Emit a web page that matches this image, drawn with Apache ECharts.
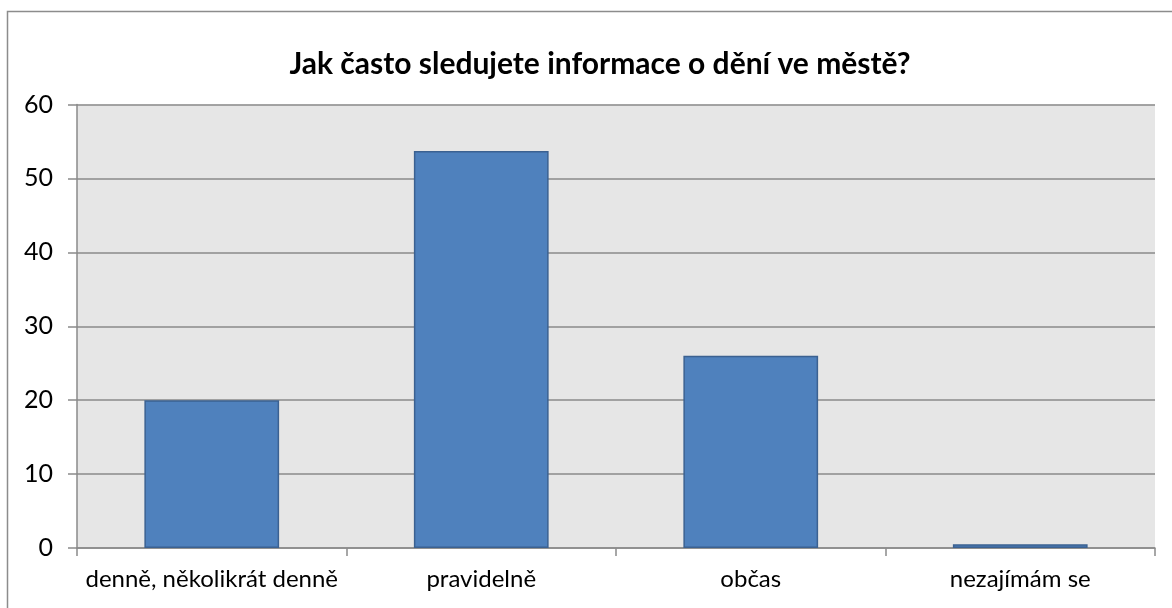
<!DOCTYPE html>
<html>
<head>
<meta charset="utf-8">
<style>
  html, body { margin: 0; padding: 0; background: #ffffff; }
  #chart { width: 1172px; height: 608px; }
</style>
<script src="https://cdn.jsdelivr.net/npm/echarts@6/dist/echarts.min.js"></script>
</head>
<body>
<div id="chart"></div>
<script>
// Survey: how often do you follow news about the town?
const titleText = 'Jak často sledujete informace o dění ve městě?';
const categories = ['denně, několikrát denně', 'pravidelně', 'občas', 'nezajímám se'];
const values = [20, 53.7, 26, 0.5];
const yTicks = [0, 10, 20, 30, 40, 50, 60];

const FONT = 'Lato, "Liberation Sans", sans-serif';
const GRID_COLOR = '#8a8a8a';

const chart = echarts.init(document.getElementById('chart'), null, { renderer: 'canvas' });

chart.setOption({
  backgroundColor: '#ffffff',
  animation: false,
  graphic: [{
    type: 'rect',
    shape: { x: 7.5, y: 11.5, width: 1300, height: 800 },
    style: { fill: 'none', stroke: '#8c8c8c', lineWidth: 1.5 },
    silent: true,
    z: -10
  }],
  title: {
    text: titleText,
    left: 595,
    top: 44,
    textAlign: 'center',
    textStyle: { fontFamily: FONT, fontWeight: 'bold', fontSize: 30, color: '#000000' }
  },
  grid: {
    left: 77,
    top: 104.5,
    right: 17,
    bottom: 60,
    show: true,
    backgroundColor: '#e6e6e6',
    borderWidth: 0
  },
  xAxis: {
    type: 'category',
    data: categories,
    axisLine: { show: true, lineStyle: { color: GRID_COLOR, width: 1.5 } },
    axisTick: { show: true, length: 8, lineStyle: { color: GRID_COLOR, width: 1.5 } },
    axisLabel: { fontFamily: FONT, fontSize: 24, color: '#000000', margin: 19, interval: 0 },
    splitLine: { show: false }
  },
  yAxis: {
    type: 'value',
    min: yTicks[0],
    max: yTicks[yTicks.length - 1],
    interval: yTicks[1] - yTicks[0],
    axisLine: { show: true, lineStyle: { color: GRID_COLOR, width: 1.5 } },
    axisTick: { show: true, length: 9, lineStyle: { color: GRID_COLOR, width: 1.5 } },
    axisLabel: { fontFamily: FONT, fontSize: 25, color: '#000000', margin: 24 },
    splitLine: { show: true, lineStyle: { color: GRID_COLOR, width: 1.5 } }
  },
  series: [{
    type: 'bar',
    data: values,
    barWidth: '50%',
    itemStyle: { color: '#4f81bd', borderColor: '#3b6191', borderWidth: 1.5 }
  }]
});
</script>
</body>
</html>
